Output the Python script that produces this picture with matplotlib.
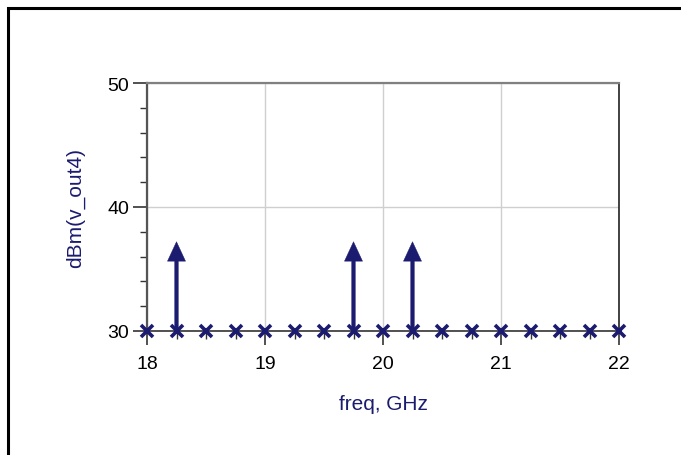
import matplotlib
matplotlib.use("Agg")
import matplotlib.pyplot as plt
from matplotlib.patches import Rectangle
from matplotlib.ticker import MultipleLocator

plt.rcParams['font.family'] = ['Liberation Sans', 'DejaVu Sans']

# Spectrum of v_out4: tones sampled every 0.25 GHz
freq_ghz = [18.0, 18.25, 18.5, 18.75, 19.0, 19.25, 19.5, 19.75, 20.0,
            20.25, 20.5, 20.75, 21.0, 21.25, 21.5, 21.75, 22.0]
power_dbm = [30, 37.2, 30, 30, 30, 30, 30, 37.2, 30,
             37.2, 30, 30, 30, 30, 30, 30, 30]
floor_dbm = 30

x_ticks = [18, 19, 20, 21, 22]
y_ticks = [30, 40, 50]

navy = '#1b1b6f'

fig = plt.figure(figsize=(6.81, 4.56), dpi=100)
fig.patch.set_facecolor('white')

# outer frame (top and left edges visible)
fig.add_artist(Rectangle((7.5 / 681, -0.2), 1.0, 1.2 - 8.5 / 456,
                         transform=fig.transFigure, fill=False,
                         edgecolor='black', linewidth=2.2))

ax = fig.add_axes([147 / 681, 1 - 332 / 456, 472 / 681, 248 / 456])
ax.set_xlim(18, 22)
ax.set_ylim(30, 50)

ax.set_xticks(x_ticks)
ax.set_yticks(y_ticks)
ax.xaxis.set_minor_locator(MultipleLocator(0.25))
ax.yaxis.set_minor_locator(MultipleLocator(2))
ax.tick_params(axis='both', which='major', labelsize=14, colors='#333333',
               labelcolor='black', width=1.2)
ax.tick_params(axis='x', which='major', length=10, pad=7)
ax.tick_params(axis='y', which='major', length=10, pad=3)
ax.tick_params(axis='x', which='minor', length=6, width=1.0, colors='#333333')
ax.tick_params(axis='y', which='minor', length=5, width=1.0, colors='#333333')

ax.grid(True, which='major', color='#cfcfcf', linewidth=1.0)
ax.set_axisbelow(True)

ax.spines['top'].set_color('#808080')
ax.spines['top'].set_linewidth(1.6)
ax.spines['left'].set_color('#555555')
ax.spines['left'].set_linewidth(1.6)
ax.spines['bottom'].set_color('#333333')
ax.spines['bottom'].set_linewidth(1.2)
ax.spines['right'].set_color('#222222')
ax.spines['right'].set_linewidth(1.2)

# spectral lines drawn as arrows from the floor
for f, p in zip(freq_ghz, power_dbm):
    if p > floor_dbm:
        ax.annotate('', xy=(f, p), xytext=(f, floor_dbm),
                    arrowprops=dict(width=2.6, headwidth=13, headlength=14,
                                    shrink=0, facecolor=navy, edgecolor=navy,
                                    linewidth=0.3))

ax.plot(freq_ghz, [floor_dbm] * len(freq_ghz), linestyle='none', marker='x',
        markersize=8, markeredgewidth=2.6, color=navy, clip_on=False, zorder=5)

ax.set_xlabel('freq, GHz', color=navy, fontsize=15, labelpad=16)
ax.set_ylabel('dBm(v_out4)', color=navy, fontsize=15, labelpad=16)

fig.savefig('out.png', dpi=100)
